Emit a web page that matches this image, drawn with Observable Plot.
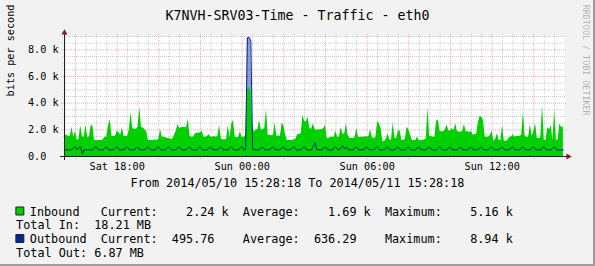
<!DOCTYPE html>
<html><head><meta charset="utf-8">
<script src="https://cdn.jsdelivr.net/npm/d3@7"></script>
<script src="https://cdn.jsdelivr.net/npm/@observablehq/plot@0.6"></script>
<style>
html,body{margin:0;padding:0;background:#F2F2F2;}
#wrap{position:relative;width:595px;height:266px;background:#F2F2F2;box-shadow: inset -2px -2px 0 #9E9E9E;}
#wrap svg{position:absolute;left:0;top:0;}
</style></head><body><div id="wrap"></div>
<script>
const title = "K7NVH-SRV03-Time - Traffic - eth0";
const yAxisTitle = "bits per second";
const watermark = "RRDTOOL / TOBI OETIKER";
const periodText = "From 2014/05/10 15:28:18 To 2014/05/11 15:28:18";
const rangeStart = new Date(2014, 4, 10, 15, 28, 18);
const rangeEnd = new Date(2014, 4, 11, 15, 28, 18);
const firstSample = new Date(2014, 4, 10, 15, 30, 0);
const stepMinutes = 5;
const yMax = 9000;
const yTickValues = [0, 2000, 4000, 6000, 8000];
const yTickLabels = ["0.0", "2.0 k", "4.0 k", "6.0 k", "8.0 k"];
const xTickTimes = [new Date(2014,4,10,18), new Date(2014,4,11,0), new Date(2014,4,11,6), new Date(2014,4,11,12)];
const xTickLabels = ["Sat 18:00", "Sun 00:00", "Sun 06:00", "Sun 12:00"];

// kbit/s, one value per 5 minutes
const inbound = [
1.6,1.6,1.5,1.5,2.2,1.45,1.9,1.2,1.3,2.3,
1.5,1.4,2.35,1.45,1.45,2.3,2.3,1.2,1.2,1.2,
1.2,1.2,1.25,1.45,1.45,2.3,2.75,1.5,1.5,1.5,
1.9,1.8,1.6,2.15,1.5,1.5,1.5,2.0,3.3,2.1,
2.05,2.05,2.2,3.7,2.15,2.15,2.0,1.85,1.2,1.2,
1.2,1.2,1.25,1.2,1.3,2.0,1.45,1.45,1.4,1.35,
1.35,1.3,1.3,1.6,1.9,2.4,2.1,2.15,2.2,2.15,
2.2,2.8,1.5,1.45,1.45,1.7,1.75,1.75,1.8,1.9,
1.45,1.45,1.5,1.65,1.45,1.45,1.5,1.45,1.5,2.35,
1.3,1.25,1.25,1.3,2.3,1.4,2.45,2.7,1.45,1.4,
1.45,1.85,1.4,1.45,1.5,5.0,5.16,4.9,2.3,1.8,
2.0,2.0,2.7,2.0,2.0,2.1,3.5,1.6,1.6,1.55,
1.6,2.5,1.5,1.55,1.5,2.5,2.3,1.65,1.2,1.2,
1.2,1.2,1.25,1.3,1.65,1.65,1.7,3.1,2.6,2.6,
2.95,2.1,2.05,2.45,2.0,1.95,2.0,2.0,2.0,2.1,
2.35,1.35,1.35,1.45,1.45,1.45,1.9,1.45,1.45,2.15,
1.7,1.65,2.45,1.6,1.35,1.35,1.35,1.4,2.1,1.45,
1.45,1.45,1.45,1.5,1.45,1.5,2.0,1.4,1.35,1.4,
2.6,2.45,2.1,1.15,1.1,1.3,1.7,1.25,1.2,2.55,
1.35,1.35,1.95,1.9,1.2,1.2,1.3,2.2,2.0,1.6,
1.2,1.2,1.2,1.45,1.2,1.2,1.2,1.25,1.3,3.65,
1.5,1.5,1.45,1.45,2.65,2.75,1.85,1.85,1.85,2.0,
2.35,1.95,1.9,2.1,1.95,2.45,1.85,1.85,1.8,1.9,
2.4,1.85,1.85,1.8,1.9,1.6,1.65,1.65,2.5,3.0,
2.95,2.7,1.45,1.45,1.45,1.6,1.9,1.1,1.3,1.7,
1.2,1.2,2.33,1.15,1.15,1.2,1.45,1.45,1.65,1.45,
1.5,1.5,1.5,1.6,3.3,1.5,1.45,1.45,2.4,1.5,
1.85,2.45,1.35,1.35,1.4,3.83,1.2,1.2,2.15,2.0,
2.33,1.2,3.5,1.2,1.25,2.45,2.15,2.24
];
const outbound = [
0.5,0.5,0.5,0.5,0.5,0.68,0.72,0.5,0.68,0.72,
0.2,0.5,0.5,0.5,0.5,0.5,0.5,0.68,0.72,0.5,
0.5,0.5,0.5,0.68,0.72,0.5,0.5,0.5,0.5,0.68,
0.72,0.5,0.5,0.5,0.5,0.68,0.72,0.5,0.5,0.5,
0.5,0.68,0.72,0.5,0.5,0.5,0.5,0.68,0.72,0.5,
0.5,0.5,0.5,0.68,0.72,0.5,0.5,0.5,0.5,0.68,
0.72,0.5,0.5,0.5,0.5,0.68,0.72,0.5,0.5,0.5,
0.5,0.68,0.72,0.5,0.5,0.5,0.5,0.68,0.72,0.5,
0.5,0.5,0.5,0.68,0.72,0.5,0.5,0.5,0.5,0.68,
0.72,0.5,0.5,0.5,0.5,0.68,0.72,0.5,0.5,0.5,
0.5,0.68,0.72,0.5,0.5,8.9,8.94,8.65,0.55,0.5,
0.5,0.5,0.5,0.68,0.72,0.5,0.5,0.5,0.5,0.68,
0.72,0.5,0.5,0.5,0.5,0.68,0.72,0.5,0.5,0.5,
0.5,0.68,0.72,0.5,0.5,0.5,0.5,0.68,0.72,0.5,
0.5,0.5,0.5,0.8,1.05,0.5,0.5,0.5,0.5,0.68,
0.72,0.5,0.5,0.5,0.5,0.68,0.72,0.5,0.5,0.7,
0.82,0.55,0.72,0.5,0.5,0.5,0.5,0.68,0.72,0.5,
0.5,0.5,0.5,0.68,0.72,0.5,0.5,0.5,0.5,0.68,
0.72,0.5,0.5,0.5,0.5,0.68,0.72,0.5,0.5,0.5,
0.5,0.68,0.72,0.5,0.5,0.5,0.5,0.68,0.72,0.5,
0.5,0.5,0.5,0.68,0.72,0.5,0.5,0.5,0.5,0.68,
0.72,0.5,0.5,0.5,0.5,0.68,0.72,0.5,0.5,0.5,
0.5,0.68,0.72,0.5,0.5,0.5,0.5,0.68,0.72,0.5,
0.5,0.5,0.5,0.68,0.72,0.5,0.5,0.5,0.5,0.68,
0.72,0.5,0.5,0.5,0.5,0.68,0.72,0.5,0.5,0.5,
0.5,0.68,0.72,0.5,0.5,0.5,0.5,0.68,0.72,0.5,
0.5,0.5,0.5,0.68,0.72,0.5,0.5,0.5,0.5,0.68,
0.72,0.5,0.5,0.5,0.5,0.68,0.72,0.5,0.5,0.5,
0.5,0.68,0.72,0.5,0.5,0.5,0.5,0.496
];

const seriesNames = ["Inbound", "Outbound"];
const seriesColors = ["#00CF00", "#002A97"];
const statCurrent = ["2.24 k", "495.76"];
const statAverage = ["1.69 k", "636.29"];
const statMaximum = ["5.16 k", "8.94 k"];
const totalLabels = ["Total In:", "Total Out:"];
const totalValues = ["18.21 MB", "6.87 MB"];

const FONT = "DejaVu Sans Mono";
const nb = s => s.replace(/ /g, "\u00a0");
const fmt = s => { const [num, unit = " "] = s.split(" "); return num.padStart(8) + " " + unit; };
const legendLines = seriesNames.map((n, i) =>
  nb(n.padEnd(10) + "Current:" + fmt(statCurrent[i]) + "  Average:" + fmt(statAverage[i]) + "  Maximum:" + fmt(statMaximum[i])));
const totalLines = totalLabels.map((l, i) => nb(l.padEnd(11) + totalValues[i]));

const rows = inbound.map((v, i) => ({
  t: new Date(+firstSample + i * stepMinutes * 60000),
  inb: v * 1000,
  out: outbound[i] * 1000
}));

const minorX = d3.timeMinute.every(30).range(rangeStart, rangeEnd).filter(d => d.getMinutes() !== 0 || d.getHours() % 2 !== 0);
const majorX = d3.timeHour.every(2).range(rangeStart, rangeEnd);
const minorY = d3.range(500, yMax + 1, 500).filter(v => v % 2000 !== 0);
const majorY = [2000, 4000, 6000, 8000];

const gridMinor = {stroke: "#8F8F8F", strokeOpacity: 0.45, strokeDasharray: "1,1"};
const gridMajor = {stroke: "#E05050", strokeOpacity: 0.45, strokeDasharray: "1,1"};
const txt = (s, o) => Plot.text([s], {text: d => d, fontFamily: FONT, fill: "#000", ...o});

const chart = Plot.plot({
  width: 595, height: 266,
  marginTop: 36, marginRight: 31, marginBottom: 110, marginLeft: 64,
  x: {type: "time", domain: [rangeStart, rangeEnd], axis: null},
  y: {domain: [0, yMax], axis: null},
  style: {background: "transparent", fontFamily: FONT, fontSize: "10.2px", overflow: "visible"},
  marks: [
    Plot.frame({fill: "#FFFFFF", stroke: "none"}),
    Plot.ruleX(minorX, {...gridMinor, insetTop: -2, insetBottom: -2}),
    Plot.ruleY(minorY, {...gridMinor, insetLeft: -2, insetRight: -2}),
    Plot.ruleX(majorX, {...gridMajor, insetTop: -2, insetBottom: -3}),
    Plot.ruleY(majorY, {...gridMajor, insetLeft: -3, insetRight: -2}),
    Plot.areaY(rows, {x: "t", y: "out", fill: seriesColors[1], fillOpacity: 0.45}),
    Plot.areaY(rows, {x: "t", y: "inb", fill: seriesColors[0]}),
    Plot.lineY(rows, {x: "t", y: "out", stroke: seriesColors[1], strokeWidth: 1}),
    Plot.ruleY([0], {stroke: "#1F1F1F", insetLeft: -4, insetRight: -4}),
    Plot.ruleX([rangeStart], {stroke: "#1F1F1F", insetTop: -4, insetBottom: -4}),
    Plot.dot([{t: rangeStart, v: yMax}], {x: "t", y: "v", symbol: "triangle", r: 2.3, fill: "#7F1F1F", stroke: "none", dy: -3.7}),
    Plot.dot([{t: rangeEnd, v: 0}], {x: "t", y: "v", symbol: "triangle", r: 2.3, rotate: 90, fill: "#7F1F1F", stroke: "none", dx: 3.7}),
    Plot.text(yTickValues, {y: d => d, text: (d, i) => yTickLabels[i], frameAnchor: "left", textAnchor: "start", dx: -36.6, fontFamily: FONT, fontSize: 10.2, fill: "#000"}),
    Plot.text(xTickTimes, {x: d => d, text: (d, i) => xTickLabels[i], frameAnchor: "bottom", lineAnchor: "bottom", dy: 13, fontFamily: FONT, fontSize: 10.2, fill: "#000"}),
    txt(yAxisTitle, {frameAnchor: "left", rotate: -90, lineAnchor: "bottom", dx: -51, fontSize: 10.2}),
    txt(title, {frameAnchor: "top", lineAnchor: "bottom", dx: -17, dy: -16.8, fontSize: 13.3}),
    txt(watermark, {frameAnchor: "top-right", rotate: 90, textAnchor: "start", lineAnchor: "bottom", dx: 18.3, dy: -31.8, fontSize: 8.4, fill: "#000", fillOpacity: 0.3}),
    txt(periodText, {frameAnchor: "top", lineAnchor: "bottom", dx: -17, dy: 150.7, fontSize: 11.8}),
    Plot.dot([0], {frameAnchor: "top-left", dx: -44.65, dy: 174.5, symbol: "square", r: 4.5, fill: seriesColors[0], stroke: "#222", strokeWidth: 1}),
    Plot.dot([0], {frameAnchor: "top-left", dx: -44.65, dy: 202, symbol: "square", r: 4.5, fill: seriesColors[1], stroke: "#222", strokeWidth: 1}),
    txt(legendLines[0], {frameAnchor: "top-left", textAnchor: "start", lineAnchor: "bottom", dx: -34.7, dy: 179, fontSize: 11.8}),
    txt(totalLines[0], {frameAnchor: "top-left", textAnchor: "start", lineAnchor: "bottom", dx: -48.4, dy: 192.5, fontSize: 11.8}),
    txt(legendLines[1], {frameAnchor: "top-left", textAnchor: "start", lineAnchor: "bottom", dx: -34.7, dy: 206.5, fontSize: 11.8}),
    txt(totalLines[1], {frameAnchor: "top-left", textAnchor: "start", lineAnchor: "bottom", dx: -48.4, dy: 220.5, fontSize: 11.8})
  ]
});
document.getElementById("wrap").appendChild(chart);
</script></body></html>
